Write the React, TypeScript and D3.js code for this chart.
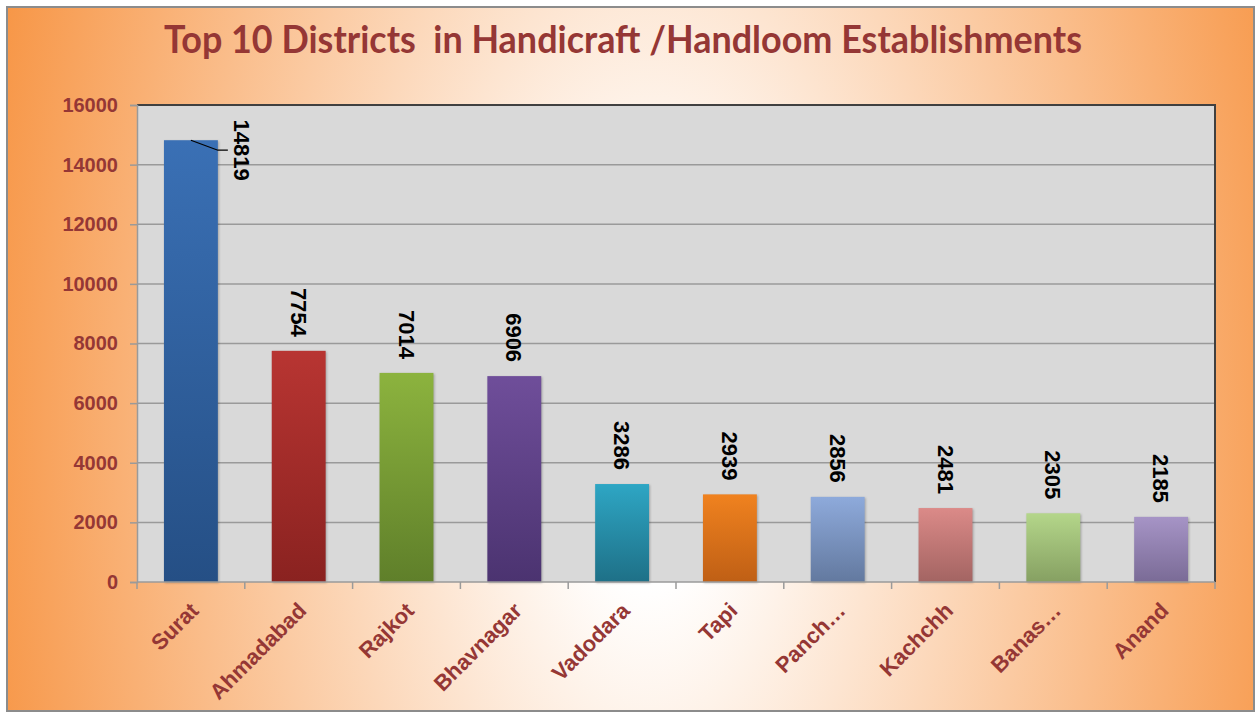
import React, { useEffect, useRef } from 'react';
import * as d3 from 'd3';

const districts = ['Surat', 'Ahmadabad', 'Rajkot', 'Bhavnagar', 'Vadodara', 'Tapi', 'Panch…', 'Kachchh', 'Banas…', 'Anand'];
const establishments = [14819, 7754, 7014, 6906, 3286, 2939, 2856, 2481, 2305, 2185];
const yTicks = [0, 2000, 4000, 6000, 8000, 10000, 12000, 14000, 16000];
const barTop = ['#3a70b5', '#b83532', '#8cb33e', '#6f4e9a', '#2ea6c4', '#f0821f', '#8eaadb', '#db8a88', '#b4d68a', '#a694c6'];
const barBottom = ['#254f85', '#8a2220', '#5f7f2a', '#4b3370', '#1e7087', '#bf5f15', '#63799f', '#a36462', '#86a062', '#7a6b96'];

const W = 1256;
const H = 715;
const plot = { left: 137, top: 105, right: 1215, bottom: 582 };
const red = '#953735';

const App = () => {
  const ref = useRef<SVGSVGElement>(null);

  useEffect(() => {
    const svg = d3.select(ref.current);
    svg.selectAll('*').remove();

    const defs = svg.append('defs');
    const bg = defs.append('radialGradient')
      .attr('id', 'bg')
      .attr('gradientUnits', 'userSpaceOnUse')
      .attr('cx', 650).attr('cy', 420).attr('r', 680)
      .attr('gradientTransform', 'translate(650,420) scale(1,2) translate(-650,-420)');
    bg.append('stop').attr('offset', '0%').attr('stop-color', '#ffffff');
    bg.append('stop').attr('offset', '12%').attr('stop-color', '#ffffff');
    bg.append('stop').attr('offset', '100%').attr('stop-color', '#f79646');

    districts.forEach((_, i) => {
      const g = defs.append('linearGradient').attr('id', `bar${i}`)
        .attr('x1', 0).attr('y1', 0).attr('x2', 0).attr('y2', 1);
      g.append('stop').attr('offset', '0%').attr('stop-color', barTop[i]);
      g.append('stop').attr('offset', '100%').attr('stop-color', barBottom[i]);
    });

    svg.append('rect').attr('width', W).attr('height', H).attr('fill', '#fff');
    svg.append('rect')
      .attr('x', 7).attr('y', 7).attr('width', 1247).attr('height', 704)
      .attr('fill', 'url(#bg)')
      .attr('stroke', '#8c8c8c').attr('stroke-width', 2);

    svg.append('text')
      .attr('x', 164).attr('y', 53)
      .attr('textLength', 918)
      .attr('lengthAdjust', 'spacingAndGlyphs')
      .style('font-family', 'Lato, sans-serif')
      .style('font-weight', 'bold')
      .style('font-size', '38px')
      .attr('fill', red)
      .attr('xml:space', 'preserve')
      .text('Top 10 Districts  in Handicraft /Handloom Establishments');

    const x = d3.scaleBand().domain(districts).range([plot.left, plot.right]).paddingInner(0.5).paddingOuter(0.25);
    const y = d3.scaleLinear().domain([0, 16000]).range([plot.bottom, plot.top]);
    const step = x.step();

    svg.append('rect')
      .attr('x', plot.left).attr('y', plot.top)
      .attr('width', plot.right - plot.left).attr('height', plot.bottom - plot.top)
      .attr('fill', '#d9d9d9');

    svg.append('g').selectAll('line').data(yTicks.slice(1)).enter().append('line')
      .attr('x1', plot.left).attr('x2', plot.right)
      .attr('y1', d => y(d)).attr('y2', d => y(d))
      .attr('stroke', '#9a9a9a').attr('stroke-width', 1.5);

    // plot border: dark top/right
    svg.append('path')
      .attr('d', `M${plot.left},${plot.top}H${plot.right}V${plot.bottom}`)
      .attr('fill', 'none').attr('stroke', '#404040').attr('stroke-width', 2);

    const yAxis = d3.axisLeft(y).tickValues(yTicks).tickSize(7).tickPadding(12).tickFormat(d3.format('d'));
    const ya = svg.append('g').attr('transform', `translate(${plot.left},0)`).call(yAxis);
    ya.select('.domain').attr('stroke', '#9a9a9a').attr('stroke-width', 1.5);
    ya.selectAll('.tick line').attr('stroke', '#9a9a9a').attr('stroke-width', 1.5);
    ya.selectAll('.tick text')
      .style('font-family', '"Liberation Sans", Arial, sans-serif')
      .style('font-weight', 'bold').style('font-size', '20px')
      .attr('fill', red);

    // bars
    svg.append('g').selectAll('rect').data(establishments).enter().append('rect')
      .attr('x', (_, i) => x(districts[i])!)
      .attr('y', d => y(d))
      .attr('width', x.bandwidth())
      .attr('height', d => plot.bottom - y(d))
      .attr('fill', (_, i) => `url(#bar${i})`)
      .style('filter', 'drop-shadow(1px 1px 1px rgba(0,0,0,0.25))');

    // x axis line + ticks at category boundaries
    svg.append('line')
      .attr('x1', plot.left).attr('x2', plot.right)
      .attr('y1', plot.bottom).attr('y2', plot.bottom)
      .attr('stroke', '#9a9a9a').attr('stroke-width', 1.5);
    svg.append('g').selectAll('line').data(d3.range(districts.length + 1)).enter().append('line')
      .attr('x1', i => plot.left + i * step).attr('x2', i => plot.left + i * step)
      .attr('y1', plot.bottom).attr('y2', plot.bottom + 7)
      .attr('stroke', '#9a9a9a').attr('stroke-width', 1.5);

    // x labels
    svg.append('g').selectAll('text').data(districts).enter().append('text')
      .attr('transform', d => `translate(${x(d)! + x.bandwidth() / 2 + 9},${plot.bottom + 30}) rotate(-45)`)
      .attr('text-anchor', 'end')
      .style('font-family', '"Liberation Sans", Arial, sans-serif')
      .style('font-weight', 'bold').style('font-size', '22px')
      .attr('fill', red)
      .text(d => d);

    // data labels, rotated 90deg
    const labels = svg.append('g');
    establishments.forEach((v, i) => {
      const cx = x(districts[i])! + x.bandwidth() / 2;
      if (i === 0) {
        const bx = x(districts[i])! + x.bandwidth();
        labels.append('path')
          .attr('d', `M${cx},${y(v)}L${bx},${y(v) + 10}H${bx + 10}`)
          .attr('fill', 'none').attr('stroke', '#000').attr('stroke-width', 1.2);
        labels.append('text')
          .attr('transform', `translate(${bx + 16},${y(v) + 10}) rotate(90)`)
          .attr('text-anchor', 'middle')
          .style('font-family', '"Liberation Sans", Arial, sans-serif')
          .style('font-weight', 'bold').style('font-size', '22px')
          .attr('fill', '#000')
          .text(v);
      } else {
        labels.append('text')
          .attr('transform', `translate(${cx - 8},${y(v) - 14}) rotate(90)`)
          .attr('text-anchor', 'end')
          .style('font-family', '"Liberation Sans", Arial, sans-serif')
          .style('font-weight', 'bold').style('font-size', '22px')
          .attr('fill', '#000')
          .text(v);
      }
    });
  }, []);

  return (
    <svg ref={ref} width={W} height={H} style={{ position: 'absolute', left: 0, top: 0, display: 'block' }}></svg>
  );
};

export default App;
